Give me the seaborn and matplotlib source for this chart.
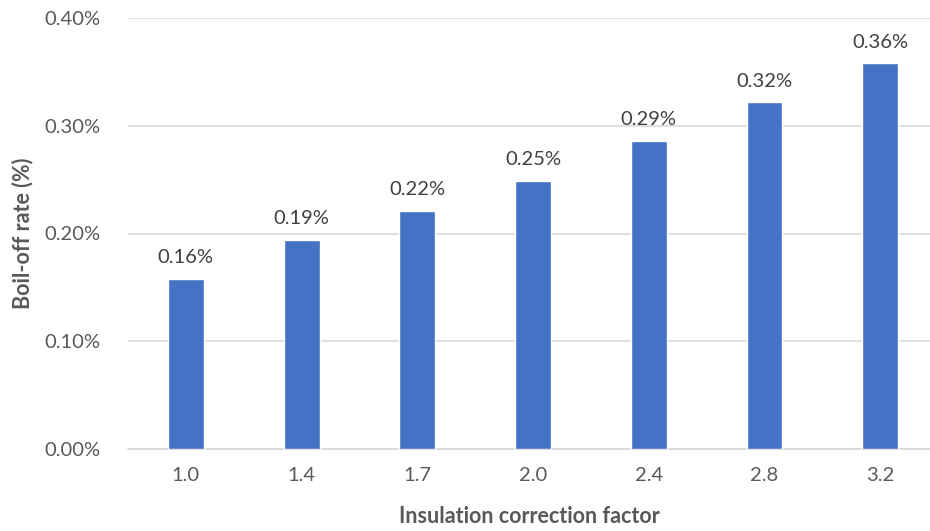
import matplotlib
matplotlib.use("Agg")
import matplotlib.pyplot as plt
import seaborn as sns
import pandas as pd

# Boil-off rate (%) by insulation correction factor
factors = ["1.0", "1.4", "1.7", "2.0", "2.4", "2.8", "3.2"]
boil_off = [0.158, 0.194, 0.221, 0.249, 0.286, 0.322, 0.358]
y_ticks = [0.0, 0.1, 0.2, 0.3, 0.4]

sns.set_style("white")
plt.rcParams["font.family"] = ["Lato", "DejaVu Sans"]

df = pd.DataFrame({"factor": factors, "rate": boil_off})

fig = plt.figure(figsize=(9.30, 5.31), dpi=100)
ax = fig.add_axes([128 / 930, 1 - 449 / 531, (930 - 128) / 930, (449 - 18) / 531])

sns.barplot(data=df, x="factor", y="rate", color="#4472C4", width=0.31,
            saturation=1, ax=ax, zorder=3)

ax.set_ylim(0, 0.4)
ax.set_xlim(-0.5, 6.43)
ax.set_yticks(y_ticks)
ax.set_yticklabels([f"{v:.2f}%" for v in y_ticks])
ax.grid(axis="y", color="#D9D9D9", linewidth=1.2, zorder=0)
ax.set_axisbelow(True)
for s in ["top", "right", "left"]:
    ax.spines[s].set_visible(False)
ax.spines["bottom"].set_color("#D9D9D9")
ax.spines["bottom"].set_linewidth(1.2)
ax.tick_params(axis="both", length=0, labelsize=14.5, colors="#595959")
ax.tick_params(axis="x", pad=13)
ax.tick_params(axis="y", pad=20)

for i, v in enumerate(boil_off):
    ax.annotate(f"{v:.2f}%", (i, v), xytext=(0, 9), textcoords="offset points",
                ha="center", va="bottom", fontsize=14.5, color="#404040")

ax.set_xlabel("Insulation correction factor", fontsize=15.5, fontweight="bold",
              color="#595959", labelpad=16)
ax.set_ylabel("Boil-off rate (%)", fontsize=15.5, fontweight="bold",
              color="#595959", labelpad=8)

fig.savefig("out.png", dpi=100)
